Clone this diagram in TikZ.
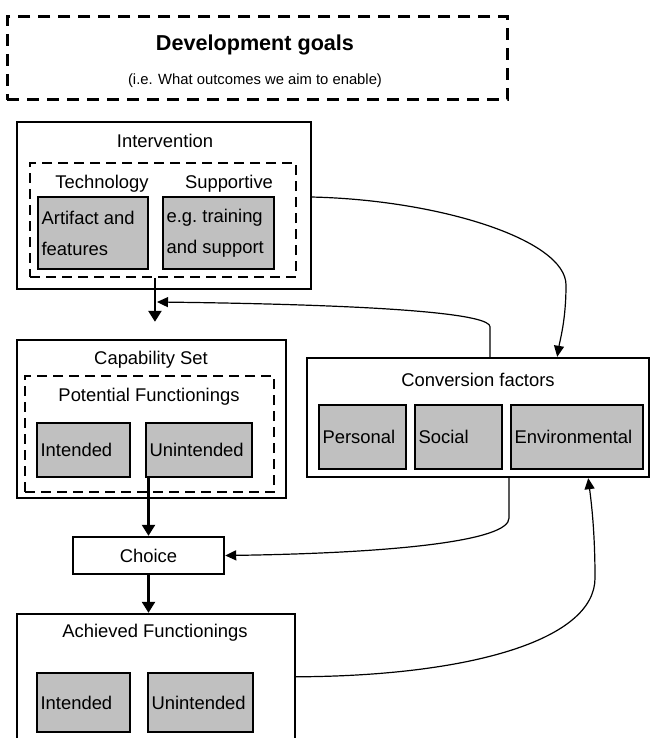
\documentclass[tikz,border=0pt]{standalone}
\usepackage{fontspec}
\setmainfont{Liberation Sans}
\usetikzlibrary{arrows.meta,calc,fit}
\definecolor{BoxGray}{RGB}{192,192,192}

\begin{document}
\begin{tikzpicture}[
    x=0.5pt, y=-0.5pt,
    every node/.style={font=\fontsize{9.2}{11}\selectfont},
    outerbox/.style={draw, line width=1.2pt, inner sep=0pt},
    dashbox/.style={draw, line width=1.1pt, dash pattern=on 5pt off 3pt, inner sep=0pt},
    graybox/.style={draw, fill=BoxGray, line width=0.8pt, inner sep=0pt},
    boxtext/.style={anchor=west, align=left, inner sep=2pt},
    twoline/.style={font=\fontsize{9.2}{15.5}\selectfont},
    flow/.style={-{Triangle[length=5.5pt,width=6.5pt]}, line width=1.2pt},
    feedback/.style={-{Triangle[length=5.5pt,width=5pt]}, line width=0.6pt},
]
\useasboundingbox (0,0) rectangle (651,738);

\node[dashbox, line width=1.5pt, dash pattern=on 6pt off 4pt, fit={(7,17)(507,100)}] (goals) {};
\node[font=\fontsize{10.8}{13}\selectfont\bfseries] (goals-title) at (255,45) {Development goals};
\node[font=\fontsize{7.4}{9}\selectfont] (goals-sub) at (255,81) {(i.e. What outcomes we aim to enable)};

\node[outerbox, fit={(17,122)(311,289)}] (interv) {};
\node (interv-t) at (165,141) {Intervention};
\node[dashbox, fit={(30,163)(296,277)}] (intdash) {};
\node (tech-t) at (102,184) {Technology};
\node (supp-t) at (229,184) {Supportive};
\node[graybox, fit={(38,197)(148,269)}] (artifact) {};
\node[boxtext, twoline] (artifact-t) at (artifact.west) {Artifact and\\features};
\node[graybox, fit={(163,197)(274,269)}] (training) {};
\node[boxtext, twoline] (training-t) at (training.west) {e.g.\ training\\and support};

\node[outerbox, fit={(17,340)(286,498)}] (capset) {};
\node (capset-t) at (151,360) {Capability Set};
\node[dashbox, fit={(25,376)(274,492)}] (capdash) {};
\node (potential-t) at (149,397) {Potential Functionings};
\node[graybox, fit={(37,423)(130,477)}] (cap-int) {};
\node[boxtext] (cap-int-t) at (cap-int.west) {Intended};
\node[graybox, fit={(146,423)(252,477)}] (cap-unint) {};
\node[boxtext] (cap-unint-t) at (cap-unint.west) {Unintended};

\node[outerbox, fit={(307,358)(649,477)}] (conv) {};
\node (conv-t) at (478,380) {Conversion factors};
\node[graybox, fit={(319,405)(406,469)}] (personal) {};
\node[boxtext] (personal-t) at (personal.west) {Personal};
\node[graybox, fit={(415,405)(502,469)}] (social) {};
\node[boxtext] (social-t) at (social.west) {Social};
\node[graybox, fit={(511,405)(643,469)}] (environ) {};
\node[boxtext] (environ-t) at (environ.west) {Environmental};

\node[outerbox, fit={(73,537)(224,574)}] (choice) {};
\node (choice-t) at (choice.center) {Choice};

\node[outerbox, fit={(17,614)(295,750)}] (achieved) {};
\node (achieved-t) at (155,633) {Achieved Functionings};
\node[graybox, fit={(37,673)(130,732)}] (ach-int) {};
\node[boxtext] (ach-int-t) at (ach-int.west) {Intended};
\node[graybox, fit={(148,673)(253,732)}] (ach-unint) {};
\node[boxtext] (ach-unint-t) at (ach-unint.west) {Unintended};

\coordinate (fbtip) at (157,302);

\draw[flow, shorten >=8.5pt] ($(intdash.south west)!0.47!(intdash.south east)$) coordinate (intout) -- (intout |- capset.north);
\draw[feedback] ($(conv.north west)!0.535!(conv.north east)$) -- ++(0,-30) .. controls +(0,-12) and (400,305) .. (fbtip);
\draw[feedback] ($(interv.north east)!0.45!(interv.south east)$) .. controls (440,200) and (566,240) .. (566,285) .. controls (566,320) and (560,340) .. ($(conv.north west)!0.73!(conv.north east)$);
\draw[feedback] ($(conv.south west)!0.59!(conv.south east)$) -- ++(0,40) .. controls +(0,22) and (400,553) .. (choice.east);
\draw[feedback] ($(achieved.north east)+(0,64)$) .. controls (470,676) and (595,640) .. (595,578) .. controls (595,530) and (591,500) .. ($(conv.south west)!0.82!(conv.south east)$);
\draw[flow] (choice.north |- cap-unint.south) -- (choice.north);
\draw[flow] (choice.south) -- (choice.south |- achieved.north);
\end{tikzpicture}
\end{document}
